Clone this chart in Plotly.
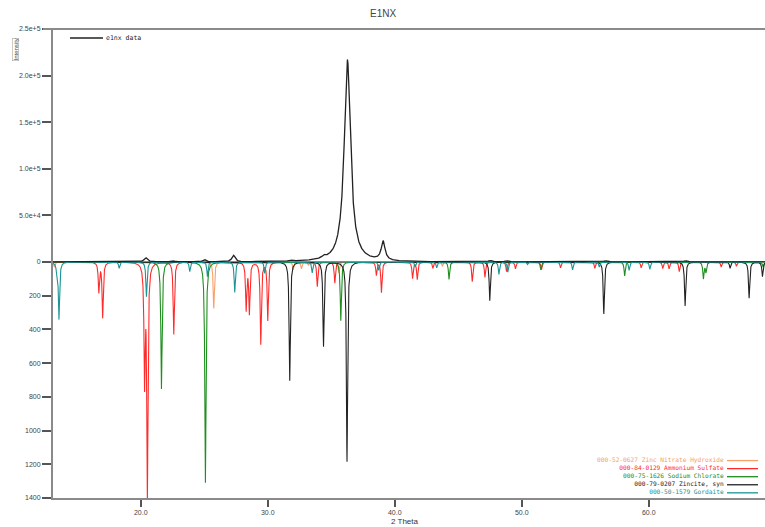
import numpy as np
import plotly.graph_objects as go

# ---------------- data ----------------
# measured pattern "e1nx data": peak positions (2θ), heights (counts), widths
data_pos = [20.4, 22.5, 25.0, 27.3, 31.8, 34.4, 36.27, 39.08, 47.5, 48.8, 56.6, 62.9]
data_int = [4500, 1500, 2500, 7000, 1500, 2500, 217000, 20500, 1500, 1500, 1500, 1500]
data_fwhm = [0.3, 0.3, 0.3, 0.3, 0.3, 0.3, 0.6, 0.35, 0.3, 0.3, 0.3, 0.3]

# reference patterns (drawn downward): positions and intensities
znno3_pos = [13.2, 25.75, 32.0, 32.65, 33.2, 35.6, 43.75]
znno3_int = [30, 275, 45, 40, 20, 65, 25]

amsulf_pos = [16.7, 17.0, 20.3, 20.52, 22.6, 28.3, 28.55, 29.45, 30.0, 33.9, 35.28,
              38.55, 38.95, 41.4, 41.77, 43.0, 46.1, 47.1, 48.8, 49.5, 51.55, 53.05,
              55.75, 59.4, 61.1, 61.6, 62.4, 65.7, 66.9]
amsulf_int = [176, 328, 690, 1382, 429, 280, 300, 486, 344, 146, 126,
              77, 180, 97, 103, 38, 117, 91, 57, 40, 45, 35,
              38, 35, 38, 40, 57, 30, 25]

naclo3_pos = [21.63, 25.09, 35.75, 44.27, 51.5, 58.1, 64.3, 64.5, 69.0]
naclo3_int = [753, 1309, 348, 103, 47, 83, 97, 60, 30]

zincite_pos = [31.73, 34.39, 36.24, 47.48, 56.46, 62.86, 66.4, 67.9, 68.95]
zincite_int = [704, 502, 1184, 229, 308, 261, 38, 215, 87]

gordaite_pos = [13.4, 13.56, 18.3, 20.45, 23.86, 25.25, 27.4, 29.76, 33.5, 38.74,
                41.6, 43.3, 48.2, 48.9, 50.45, 54.0, 56.1, 58.45, 60.08]
gordaite_int = [65, 335, 38, 206, 57, 87, 180, 67, 65, 50,
                30, 35, 73, 60, 15, 47, 30, 50, 43]

ref_names = ["000-52-0627 Zinc Nitrate Hydroxide", "000-84-0129 Ammonium Sulfate",
             "000-75-1626 Sodium Chlorate", "000-79-0207 Zincite, syn",
             "000-50-1579 Gordaite"]
ref_colors = ["#F7A06A", "#FF2A2A", "#1E8E1E", "#222222", "#1A9494"]

x_ticks = [20, 30, 40, 50, 60]
up_ticks = [0, 50000, 100000, 150000, 200000, 250000]
up_labels = ["0", "5.0e+4", "1.0e+5", "1.5e+5", "2.0e+5", "2.5e+5"]
low_ticks = [200, 400, 600, 800, 1000, 1200, 1400]

# ---------------- rendering ----------------
X0, X1 = 13.09, 69.15
grid = np.arange(X0, X1, 0.005)


def profile(pos, inten, fwhm):
    y = np.zeros_like(grid)
    for p, h, w in zip(pos, inten, fwhm):
        g = w / 2.0
        y += h * g * g / ((grid - p) ** 2 + g * g)
    return y


def px(x):
    return (x - 53) / 712.0


def py(y):
    return (498 - y) / 469.0


fig = go.Figure()

fig.add_trace(go.Scatter(x=grid, y=profile(data_pos, data_int, data_fwhm),
                         mode="lines", line=dict(color="#222222", width=1.3),
                         xaxis="x", yaxis="y", showlegend=False, name="e1nx data"))

refs = [(znno3_pos, znno3_int), (amsulf_pos, amsulf_int), (naclo3_pos, naclo3_int),
        (zincite_pos, zincite_int), (gordaite_pos, gordaite_int)]
for (pos, inten), nm, col in zip(refs, ref_names, ref_colors):
    fig.add_trace(go.Scatter(x=grid, y=profile(pos, inten, [0.11] * len(pos)),
                             mode="lines", line=dict(color=col, width=1.1),
                             xaxis="x", yaxis="y2", showlegend=False, name=nm))

ZERO = py(262)
tickfont = dict(family="Liberation Sans, Arial", size=7, color="#444444")

fig.update_layout(
    width=765, height=527,
    margin=dict(l=53, r=0, t=29, b=29),
    paper_bgcolor="white", plot_bgcolor="white",
    xaxis=dict(range=[X0, X1], anchor="y2", tickvals=x_ticks, tickformat=".1f",
               ticks="outside", ticklen=7, tickwidth=1.5, tickcolor="#555555",
               showline=True, linecolor="#8a8a8a", linewidth=2,
               showgrid=False, zeroline=False, tickfont=tickfont),
    yaxis=dict(domain=[ZERO, 1], range=[0, 250000], tickvals=up_ticks, ticktext=up_labels,
               ticks="outside", ticklen=9, tickwidth=1.5, tickcolor="#555555",
               showline=True, linecolor="#8a8a8a", linewidth=2, anchor="x",
               showgrid=False, zeroline=False, tickfont=tickfont),
    yaxis2=dict(domain=[0, ZERO], range=[1400, 0], tickvals=low_ticks,
                ticks="outside", ticklen=9, tickwidth=1.5, tickcolor="#555555",
                showline=True, linecolor="#8a8a8a", linewidth=2, anchor="x",
                showgrid=False, zeroline=False, tickfont=tickfont),
)

# zero line and top frame
fig.add_shape(type="line", xref="paper", yref="paper", x0=0, x1=1, y0=ZERO, y1=ZERO,
              line=dict(color="#8a8a8a", width=2), layer="below")
fig.add_shape(type="line", xref="paper", yref="paper", x0=-0.014, x1=1, y0=1, y1=1,
              line=dict(color="#8a8a8a", width=2))

# title and axis titles
fig.add_annotation(text="E1NX", xref="paper", yref="paper", x=px(383), y=py(14),
                   xanchor="center", yanchor="middle", showarrow=False,
                   font=dict(family="Liberation Sans, Arial", size=10, color="#444444"))
fig.add_annotation(text="2 Theta", xref="paper", yref="paper", x=px(405), y=py(521),
                   xanchor="center", yanchor="middle", showarrow=False,
                   font=dict(family="Liberation Sans, Arial", size=8, color="#333333"))
fig.add_annotation(text="Intensity", xref="paper", yref="paper", x=px(15), y=py(50),
                   xanchor="center", yanchor="middle",
                   textangle=-90, showarrow=False, bordercolor="#999999", borderwidth=0.5, borderpad=0,
                   font=dict(family="Liberation Sans, Arial", size=6, color="#444444"))

# top-left legend
lf = dict(family="DejaVu Sans Mono", size=6.5, color="#222222")
fig.add_shape(type="line", xref="paper", yref="paper", x0=px(70), x1=px(103),
              y0=py(38), y1=py(38), line=dict(color="#222222", width=1.3))
fig.add_annotation(text="e1nx data", xref="paper", yref="paper", x=px(104), y=py(38),
                   xanchor="left", yanchor="middle", showarrow=False, font=lf)

# bottom-right legend (one block of right-aligned lines, colour per line)
LSIZE = 6.2
spacing = 1.3 * LSIZE
center = 475.7
legend_text = "<br>".join(
    '<span style="color:%s">%s</span>' % (col, nm) for nm, col in zip(ref_names, ref_colors))
fig.add_annotation(text=legend_text, xref="paper", yref="paper", x=px(725), y=py(center),
                   xanchor="right", yanchor="middle", align="right", showarrow=False,
                   borderpad=0,
                   font=dict(family="DejaVu Sans Mono", size=LSIZE, color="#222222"))
for i, col in enumerate(ref_colors):
    ry = center + (i - 2) * spacing + 1
    fig.add_shape(type="line", xref="paper", yref="paper", x0=px(727), x1=px(758),
                  y0=py(ry), y1=py(ry), line=dict(color=col, width=1.3))

fig.write_html("out.html")
